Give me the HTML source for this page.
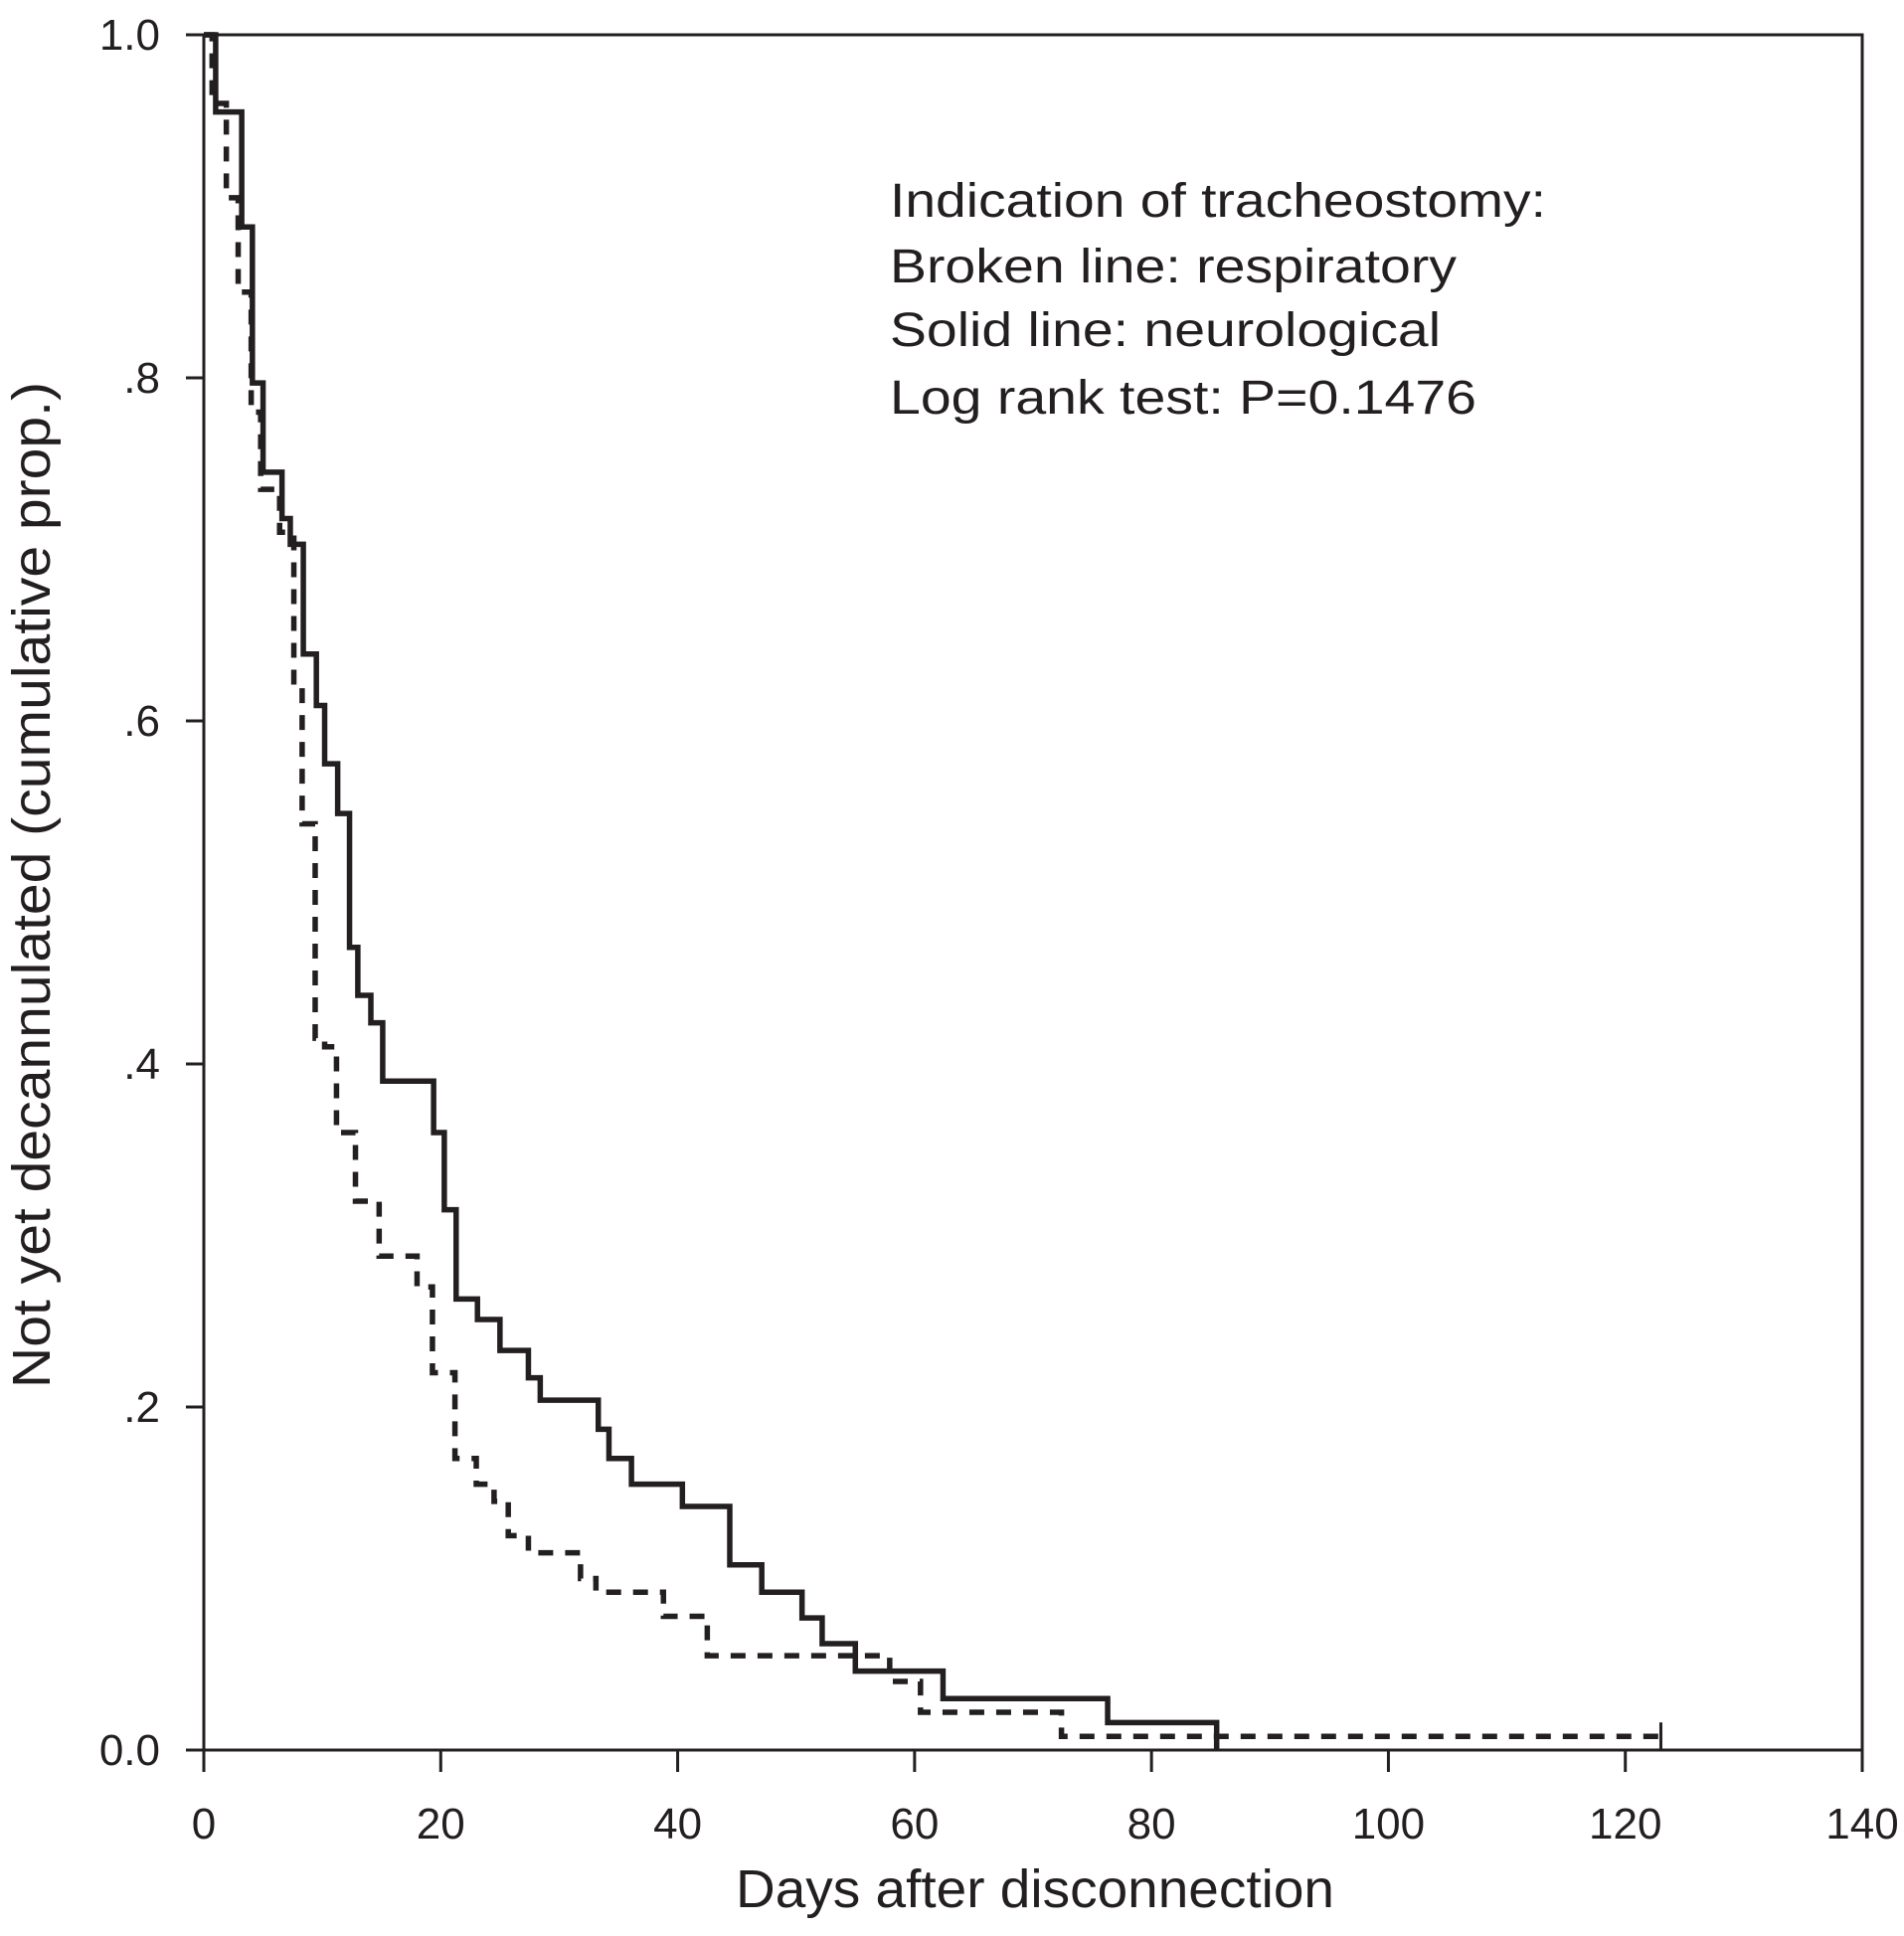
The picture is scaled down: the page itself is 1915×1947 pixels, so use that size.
<!DOCTYPE html>
<html><head><meta charset="utf-8"><style>
html,body{margin:0;padding:0;background:#fff;}
svg{display:block;font-family:"Liberation Sans",Arial,sans-serif;}
</style></head><body>
<svg id="chart" width="1915" height="1947" viewBox="0 0 1915 1947" xmlns="http://www.w3.org/2000/svg">
<rect x="205" y="35" width="1668" height="1725" fill="none" stroke="#231f20" stroke-width="3"/>
<g id="axes"></g>
<g id="series"></g>
<g font-size="48" fill="#231f20">
<text x="895" y="218" textLength="660" lengthAdjust="spacingAndGlyphs">Indication of tracheostomy:</text>
<text x="895" y="284" textLength="570" lengthAdjust="spacingAndGlyphs">Broken line: respiratory</text>
<text x="895" y="348" textLength="554" lengthAdjust="spacingAndGlyphs">Solid line: neurological</text>
<text x="895" y="416" textLength="590" lengthAdjust="spacingAndGlyphs">Log rank test: P=0.1476</text>
</g>
<text x="1041" y="1918" font-size="54" text-anchor="middle" fill="#231f20" textLength="602" lengthAdjust="spacingAndGlyphs">Days after disconnection</text>
<text transform="translate(50,890) rotate(-90)" font-size="54" text-anchor="middle" fill="#231f20" textLength="1012" lengthAdjust="spacingAndGlyphs">Not yet decannulated (cumulative prop.)</text>
</svg>
<script>
const solidDays = [0,1.0,3.2,4.1,5.0,6.6,7.3,8.4,9.5,10.2,11.3,12.3,13.0,14.1,15.1,19.4,20.3,21.3,23.1,25.0,27.4,28.4,33.3,34.2,36.1,40.4,44.4,47.1,50.5,52.2,55.0,62.4,76.3,85.5];
const solidVals = [1.0,0.955,0.888,0.797,0.745,0.718,0.703,0.639,0.609,0.575,0.546,0.468,0.44,0.424,0.39,0.36,0.315,0.263,0.251,0.233,0.217,0.204,0.187,0.17,0.155,0.142,0.108,0.092,0.077,0.062,0.046,0.03,0.016,0.0];
const brokenDays = [0,0.7,1.9,2.9,4.0,4.8,6.4,7.6,8.3,9.4,10.2,11.2,12.8,14.8,18.0,19.3,21.2,23.0,24.5,25.7,27.4,31.8,33.1,38.8,42.5,57.9,60.5,72.4];
const brokenVals = [1.0,0.96,0.905,0.85,0.78,0.735,0.71,0.62,0.54,0.415,0.41,0.36,0.32,0.288,0.27,0.22,0.17,0.155,0.145,0.125,0.115,0.1,0.092,0.078,0.055,0.04,0.022,0.008];
const brokenEnd = 123;
const xTicks = [0,20,40,60,80,100,120,140];
const xTickLabels = ["0","20","40","60","80","100","120","140"];
const yTicks = [0,0.2,0.4,0.6,0.8,1.0];
const yTickLabels = ["0.0",".2",".4",".6",".8","1.0"];

const NS="http://www.w3.org/2000/svg";
const X0=205,X1=1873,Y0=1760,Y1=35;
function sx(d){return X0+(d/140)*(X1-X0);}
function sy(v){return Y0-v*(Y0-Y1);}
function mk(tag,attrs,parent){const e=document.createElementNS(NS,tag);for(const k in attrs)e.setAttribute(k,attrs[k]);parent.appendChild(e);return e;}
const axes=document.getElementById('axes');
xTicks.forEach((t,i)=>{
  const l=mk('line',{x1:sx(t),x2:sx(t),y1:Y0,y2:Y0+22,stroke:'#231f20','stroke-width':3},axes);
  
  
  const tx=mk('text',{x:sx(t),y:1849,'font-size':44,'text-anchor':'middle',fill:'#231f20'},axes);
  
  
  tx.textContent=xTickLabels[i];
});
yTicks.forEach((t,i)=>{
  const l=mk('line',{x1:187,x2:X0,y1:sy(t),y2:sy(t),stroke:'#231f20','stroke-width':3},axes);
  
  
  const tx=mk('text',{x:161,y:sy(t)+15,'font-size':44,'text-anchor':'end',fill:'#231f20'},axes);
  
  
  tx.textContent=yTickLabels[i];
});
function stepPath(days,vals,end){
  let d='M'+sx(days[0])+' '+sy(vals[0]);
  for(let i=1;i<days.length;i++){d+=' H'+sx(days[i])+' V'+sy(vals[i]);}
  if(end!==undefined)d+=' H'+sx(end);
  return d;
}
const series=document.getElementById('series');
const sp=mk('path',{d:stepPath(solidDays,solidVals),fill:'none',stroke:'#231f20','stroke-width':5.5},series);


const bp=mk('path',{d:stepPath(brokenDays,brokenVals,brokenEnd),fill:'none',stroke:'#231f20','stroke-width':5.5,'stroke-dasharray':'15 12'},series);


const ct=mk('line',{x1:sx(brokenEnd),x2:sx(brokenEnd),y1:sy(brokenVals[brokenVals.length-1])-14,y2:Y0,stroke:'#231f20','stroke-width':3},series);


</script>
</body></html>
